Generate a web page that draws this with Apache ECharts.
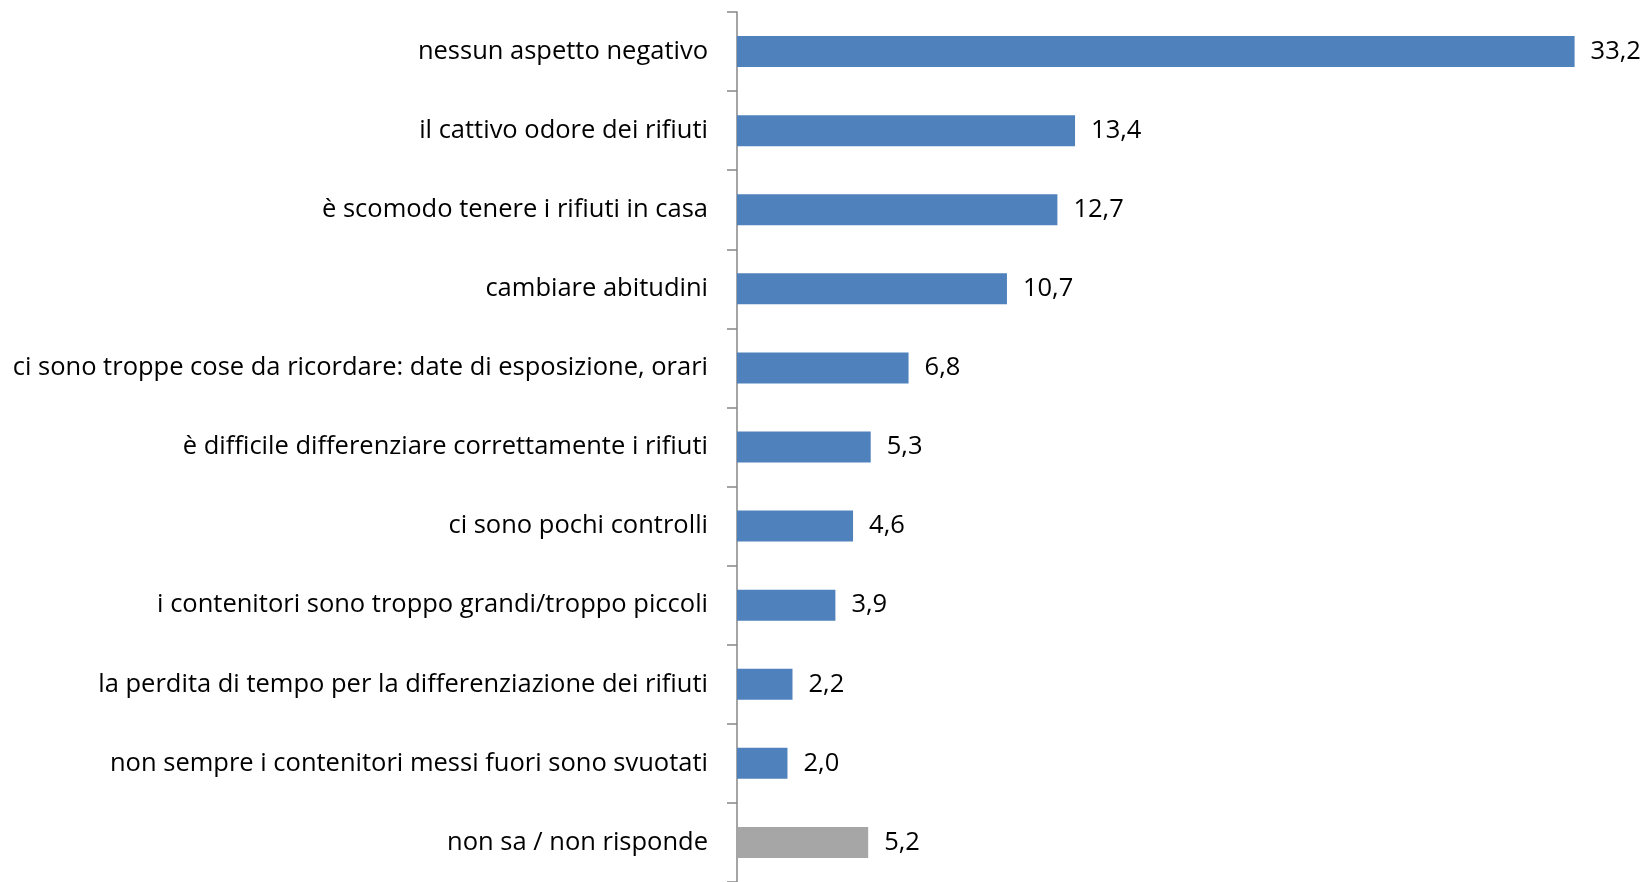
<!DOCTYPE html>
<html>
<head>
<meta charset="utf-8">
<script src="https://cdn.jsdelivr.net/npm/echarts@6/dist/echarts.min.js"></script>
<style>
  html, body { margin: 0; padding: 0; background: #fff; }
  #chart { width: 1645px; height: 882px; }
</style>
</head>
<body>
<div id="chart"></div>
<script>
// Answer categories, top to bottom
const categories = [
  'nessun aspetto negativo',
  'il cattivo odore dei rifiuti',
  'è scomodo tenere i rifiuti in casa',
  'cambiare abitudini',
  'ci sono troppe cose da ricordare: date di esposizione, orari',
  'è difficile differenziare correttamente i rifiuti',
  'ci sono pochi controlli',
  'i contenitori sono troppo grandi/troppo piccoli',
  'la perdita di tempo per la differenziazione dei rifiuti',
  'non sempre i contenitori messi fuori sono svuotati',
  'non sa / non risponde'
];

// Percentages
const values = [33.2, 13.4, 12.7, 10.7, 6.8, 5.3, 4.6, 3.9, 2.2, 2.0, 5.2];

// Categories drawn in grey instead of blue
const greyCategories = ['non sa / non risponde'];

const FONT = "'Open Sans', sans-serif";

const chart = echarts.init(document.getElementById('chart'), null, { renderer: 'canvas' });

// Text sits a few pixels below the bar centre line
const textStyle = {
  fontFamily: FONT,
  fontSize: 25.5,
  color: '#000',
  lineHeight: 30,
  padding: [6, 0, 0, 0]
};

chart.setOption({
  animation: false,
  grid: { left: 737, right: 25, top: 12, bottom: -5, containLabel: false },
  xAxis: {
    type: 'value',
    min: 0,
    max: 35,
    show: false
  },
  yAxis: {
    type: 'category',
    inverse: true,
    data: categories,
    axisLine: { show: true, lineStyle: { color: '#868686', width: 1.5 } },
    axisTick: { show: true, length: 10, lineStyle: { color: '#868686', width: 1.5 } },
    axisLabel: Object.assign({ margin: 29 }, textStyle)
  },
  series: [{
    type: 'bar',
    barWidth: 31,
    data: values.map((v, i) => ({
      value: v,
      itemStyle: { color: greyCategories.includes(categories[i]) ? '#A6A6A6' : '#4F81BD' }
    })),
    label: Object.assign({
      show: true,
      position: 'right',
      distance: 16,
      formatter: p => p.value.toFixed(1).replace('.', ',')
    }, textStyle)
  }]
});
</script>
</body>
</html>
